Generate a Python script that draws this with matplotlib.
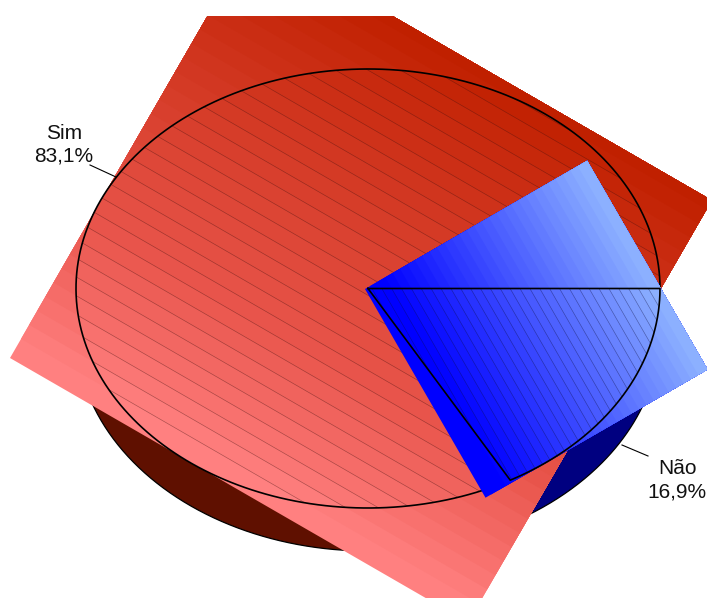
import matplotlib
matplotlib.use("Agg")
import matplotlib.pyplot as plt
from matplotlib.colors import LinearSegmentedColormap
from matplotlib.patches import Polygon, Rectangle
import numpy as np

# Datos de la encuesta
categorias = ["Sim", "Não"]
porcentajes = [83.1, 16.9]

# Geometria del pastel en pixeles
CX, CY = 368, 288.5
RX, RY = 292, 219.5
PROF = 43
N_BANDAS = 30

plt.rcParams["font.family"] = ["Liberation Sans", "DejaVu Sans"]
fig = plt.figure(figsize=(7.07, 5.98), dpi=100)
ax = fig.add_axes([0, 0, 1, 1])
ax.set_xlim(0, 707)
ax.set_ylim(598, 0)
ax.axis("off")

ang_azul = 2 * np.pi * porcentajes[1] / sum(porcentajes)


def arco(t0, t1, dy=0):
    t = np.linspace(t0, t1, 200)
    return np.column_stack([CX + RX * np.cos(t), CY + dy + RY * np.sin(t)])


def sector(t0, t1):
    return np.vstack([[CX, CY], arco(t0, t1), [CX, CY]])


def lateral(t0, t1, color):
    pts = np.vstack([arco(t0, t1), arco(t0, t1, PROF)[::-1]])
    ax.add_patch(Polygon(pts, closed=True, fc=color, ec="none", zorder=1))
    ax.plot(*arco(t0, t1, PROF).T, color="black", lw=0.9, zorder=1.1)


def degradado(origen, largo, ancho, ang, colores, fase, z):
    # rectangulo girado; cada banda llega hasta el borde lejano para que no queden juntas blancas
    cmap = LinearSegmentedColormap.from_list("g", colores)
    u = np.array([np.cos(np.radians(ang)), np.sin(np.radians(ang))])
    v = np.array([u[1], -u[0]])
    origen = np.array(origen, dtype=float)
    marco = Rectangle((0, 16), 707, 582, transform=ax.transData)
    b = origen + v * ancho
    for i in range(N_BANDAS):
        # la primera banda siempre arranca en el borde del rectangulo
        d = 0 if i == 0 else ancho * i / N_BANDAS + fase
        a = origen + v * d
        p = Polygon([a, a + u * largo, b + u * largo, b], closed=True,
                    fc=cmap(i / (N_BANDAS - 1)), ec="none", zorder=z + i * 0.001)
        ax.add_patch(p)
        p.set_clip_path(marco)
    return origen, u, v


def rayado(origen, u, v, largo, ancho, fase, forma, z, color):
    clip = Polygon(forma, closed=True, transform=ax.transData)
    for i in range(1, N_BANDAS):
        a = origen + v * (ancho * i / N_BANDAS + fase)
        b = a + u * largo
        ln, = ax.plot([a[0], b[0]], [a[1], b[1]], color=color,
                      lw=0.45, alpha=0.45, zorder=z)
        ln.set_clip_path(clip)


# Cara lateral
lateral(0, ang_azul, "#000080")
lateral(ang_azul, np.pi, "#5f1000")

# Sector rojo
sector_rojo = sector(ang_azul, 2 * np.pi)
rojos = [(0, "#ff8080"), (0.3, "#e9554c"), (1, "#c02000")]
o, u, v = degradado((10, 358), 529, 487.5, 30, rojos, 5.8, 2)
rayado(o, u, v, 529, 487.5, 5.8, sector_rojo, 3, "#401010")
ax.plot(*sector_rojo.T, color="black", lw=1.2, zorder=4)

# Sector azul
sector_azul = sector(0, ang_azul)
azules = [(0, "#0000ff"), (0.08, "#0000ff"), (1, "#8cb0ff")]
o, u, v = degradado((365, 289), 241, 256.5, 60, azules, -2.3, 5)
rayado(o, u, v, 241, 256.5, -2.3, sector_azul, 6, "#101040")
ax.plot(*sector_azul.T, color="black", lw=1.2, zorder=7)

# Etiquetas con sus lineas guia
ax.plot([90, 116], [165, 177], color="black", lw=0.8, zorder=8)
ax.plot([622, 648], [445, 456], color="black", lw=0.8, zorder=8)
for c, p, x, y in zip(categorias, porcentajes, [64, 677], [139, 474]):
    ax.text(x, y, c, ha="center", va="baseline", fontsize=15, color="#111111", zorder=9)
    ax.text(x, y + 23, f"{p:.1f}%".replace(".", ","), ha="center", va="baseline",
            fontsize=15, color="#111111", zorder=9)

fig.savefig("out.png", dpi=100)
